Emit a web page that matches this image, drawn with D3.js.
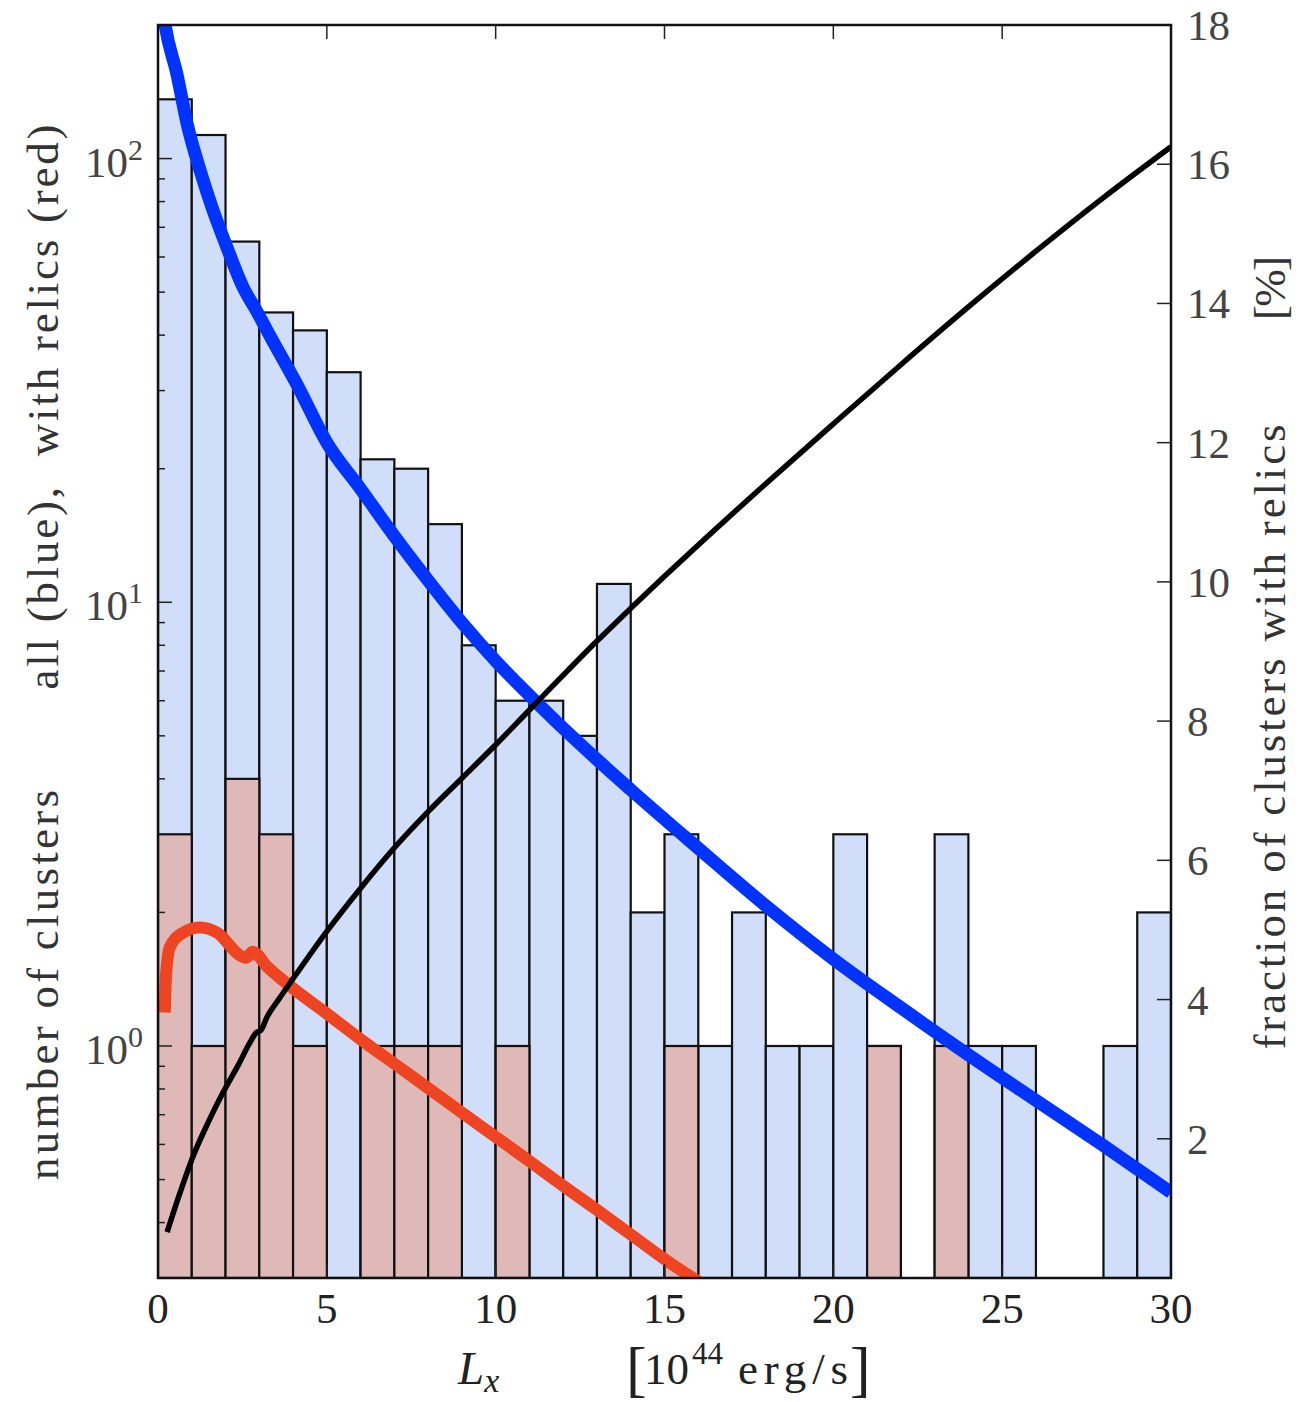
<!DOCTYPE html>
<html>
<head>
<meta charset="utf-8">
<script src="https://cdn.jsdelivr.net/npm/d3@7"></script>
<style>
  body { margin: 0; background: #fff; }
</style>
</head>
<body>
<svg id="chart" width="1300" height="1402" font-family="Liberation Serif, Times New Roman, serif"></svg>
<script>
// bins of width 1 in Lx, 0..30
const binStart = d3.range(0, 30);
const allCounts = [136, 113, 65, 45, 41, 33, 21, 20, 15, 8,
                   6, 6, 5, 11, 2, 3, 1, 2, 1, 1,
                   3, 1, 0, 3, 1, 1, 0, 0, 1, 2];
const relicCounts = [3, 1, 4, 3, 1, 0, 1, 1, 1, 0,
                     1, 0, 0, 0, 0, 1, 0, 0, 0, 0,
                     0, 1, 0, 1, 0, 0, 0, 0, 0, 0];

// smooth curves
const blueX = [0.1, 0.21, 0.56, 0.86, 1.24, 1.6, 2.04, 2.52, 2.93, 3.32, 4.12, 5, 6, 7, 8, 9, 10, 11.2, 12.5, 14, 16, 18, 20, 22, 24, 26, 28, 30];
const blueY = [229, 200, 155, 120, 94.4, 77.6, 63.1, 51.3, 45.2, 39.8, 30.9, 22.9, 18.0, 14.1, 11.2, 9.0, 7.38, 5.96, 4.79, 3.78, 2.79, 2.07, 1.57, 1.22, 0.955, 0.754, 0.596, 0.468];

const redX = [0.2, 0.24, 0.35, 0.74, 1.24, 1.75, 2.43, 2.6, 2.81, 3.23, 3.91, 5, 6, 7, 8, 9, 10, 11, 12, 13, 14, 15, 16.2];
const redY = [1.19, 1.45, 1.67, 1.80, 1.85, 1.80, 1.60, 1.58, 1.63, 1.51, 1.365, 1.183, 1.035, 0.912, 0.804, 0.708, 0.624, 0.550, 0.484, 0.427, 0.376, 0.331, 0.288];

const fracX = [0.27, 0.6, 1.04, 1.5, 1.92, 2.4, 2.72, 2.9, 3.05, 3.23, 3.6, 4, 5, 6, 7, 8, 9, 10, 11, 12, 13, 14, 15, 16, 18, 20, 22, 24, 26, 28, 30];
const fracY = [0.66, 1.15, 1.75, 2.25, 2.66, 3.08, 3.38, 3.52, 3.56, 3.75, 4.02, 4.3, 4.98, 5.6, 6.18, 6.7, 7.18, 7.66, 8.16, 8.66, 9.15, 9.62, 10.08, 10.53, 11.41, 12.27, 13.12, 13.95, 14.75, 15.52, 16.25];

const xTicks = [0, 5, 10, 15, 20, 25, 30];
const yDecades = [1, 10, 100];
const y2Ticks = [2, 4, 6, 8, 10, 12, 14, 16, 18];

const svg = d3.select("#chart");
const L = 158, R = 1171, T = 25, B = 1278;

const x = d3.scaleLinear().domain([0, 30]).range([L, R]);
const y = d3.scaleLog().domain([0.3, 200]).range([B, T]);
const y2 = d3.scaleLinear().domain([0, 18]).range([B, T]);

svg.append("defs").append("clipPath").attr("id", "plot")
  .append("rect").attr("x", L).attr("y", T).attr("width", R - L).attr("height", B - T);

const plot = svg.append("g").attr("clip-path", "url(#plot)");

// histograms
const allBins = binStart.map((s, i) => ({ s, n: allCounts[i] })).filter(d => d.n > 0);
const relBins = binStart.map((s, i) => ({ s, n: relicCounts[i] })).filter(d => d.n > 0);

plot.append("g").selectAll("rect").data(allBins).join("rect")
  .attr("x", d => x(d.s)).attr("width", d => x(d.s + 1) - x(d.s))
  .attr("y", d => y(d.n)).attr("height", d => B - y(d.n))
  .attr("fill", "#d1defa").attr("stroke", "#111").attr("stroke-width", 2.2);

plot.append("g").selectAll("rect").data(relBins).join("rect")
  .attr("x", d => x(d.s)).attr("width", d => x(d.s + 1) - x(d.s))
  .attr("y", d => y(d.n)).attr("height", d => B - y(d.n))
  .attr("fill", "#dfb9b7").attr("stroke", "#111").attr("stroke-width", 2.2);

// curves
const lineL = d3.line().x(d => x(d[0])).y(d => y(d[1])).curve(d3.curveMonotoneX);
const lineR = d3.line().x(d => x(d[0])).y(d => y2(d[1])).curve(d3.curveMonotoneX);

plot.append("path").datum(d3.zip(blueX, blueY))
  .attr("d", lineL).attr("fill", "none").attr("stroke", "#0033ff").attr("stroke-width", 13);

plot.append("path").datum(d3.zip(redX, redY))
  .attr("d", lineL).attr("fill", "none").attr("stroke", "#ee4422").attr("stroke-width", 12);

plot.append("path").datum(d3.zip(fracX, fracY))
  .attr("d", lineR).attr("fill", "none").attr("stroke", "#000").attr("stroke-width", 5.5)
  .attr("stroke-linejoin", "round");

// ticks (inward)
const tk = svg.append("g").attr("stroke", "#222").attr("stroke-width", 1.5);
const minor = y.ticks().filter(v => !yDecades.includes(v));
tk.selectAll(".ymaj").data(yDecades).join("line")
  .attr("x1", L).attr("x2", L + 14).attr("y1", d => y(d)).attr("y2", d => y(d));
tk.selectAll(".ymin").data(minor).join("line")
  .attr("x1", L).attr("x2", L + 7).attr("y1", d => y(d)).attr("y2", d => y(d));
tk.selectAll(".y2t").data(y2Ticks).join("line")
  .attr("x1", R - 14).attr("x2", R).attr("y1", d => y2(d)).attr("y2", d => y2(d));
tk.selectAll(".xt").data(xTicks).join("line")
  .attr("x1", d => x(d)).attr("x2", d => x(d)).attr("y1", T).attr("y2", T + 14);
tk.selectAll(".xb").data(xTicks).join("line")
  .attr("x1", d => x(d)).attr("x2", d => x(d)).attr("y1", B).attr("y2", B - 14);

// frame
svg.append("rect").attr("x", L).attr("y", T).attr("width", R - L).attr("height", B - T)
  .attr("fill", "none").attr("stroke", "#111").attr("stroke-width", 2.5);

// tick labels
const fs = 43;
svg.append("g").selectAll("text").data(xTicks).join("text")
  .attr("x", d => x(d)).attr("y", 1323).attr("text-anchor", "middle")
  .attr("font-size", fs).attr("fill", "#222").text(d => d);

const yl = svg.append("g").selectAll("text").data(yDecades).join("text")
  .attr("x", 143).attr("y", d => y(d) + 18).attr("text-anchor", "end")
  .attr("font-size", fs).attr("fill", "#444");
yl.append("tspan").text("10");
yl.append("tspan").attr("dy", -17).attr("font-size", 30).text(d => Math.round(Math.log10(d)));

svg.append("g").selectAll("text").data(y2Ticks).join("text")
  .attr("x", 1187).attr("y", d => y2(d) + 15).attr("text-anchor", "start")
  .attr("font-size", fs).attr("fill", "#444").text(d => d);

// axis titles (stretched to the reference's lengths)
const tfs = 45;
function vtitle(cx, cy, len, txt) {
  svg.append("text").attr("transform", `translate(${cx},${cy}) rotate(-90)`)
    .attr("text-anchor", "middle").attr("font-size", tfs).attr("fill", "#333")
    .attr("textLength", len).attr("lengthAdjust", "spacing")
    .style("white-space", "pre")
    .text(txt);
}
vtitle(58, 985, 390, "number of clusters");
vtitle(58, 407, 565, "all (blue),  with relics (red)");
vtitle(1285, 737, 625, "fraction of clusters with relics");
vtitle(1285, 288, 64, "[%]");

const xl = svg.append("text").attr("x", 458).attr("y", 1384)
  .attr("font-size", 47).attr("fill", "#222");
xl.append("tspan").attr("font-style", "italic").text("L");
xl.append("tspan").attr("font-style", "italic").attr("font-size", 34).attr("dy", 8).text("x");

const xu = svg.append("text").attr("y", 1384).attr("font-size", tfs).attr("fill", "#222");
xu.append("tspan").attr("x", 626).attr("y", 1390).attr("font-size", 62).attr("font-weight", 300).text("[");
xu.append("tspan").attr("x", 644).attr("y", 1384).text("10");
xu.append("tspan").attr("x", 692).attr("y", 1364).attr("font-size", 31).text("44");
xu.append("tspan").attr("x", 738).attr("y", 1384).attr("textLength", 110).attr("lengthAdjust", "spacing").text("erg/s");
xu.append("tspan").attr("x", 850).attr("y", 1390).attr("font-size", 62).attr("font-weight", 300).text("]");
</script>
</body>
</html>
